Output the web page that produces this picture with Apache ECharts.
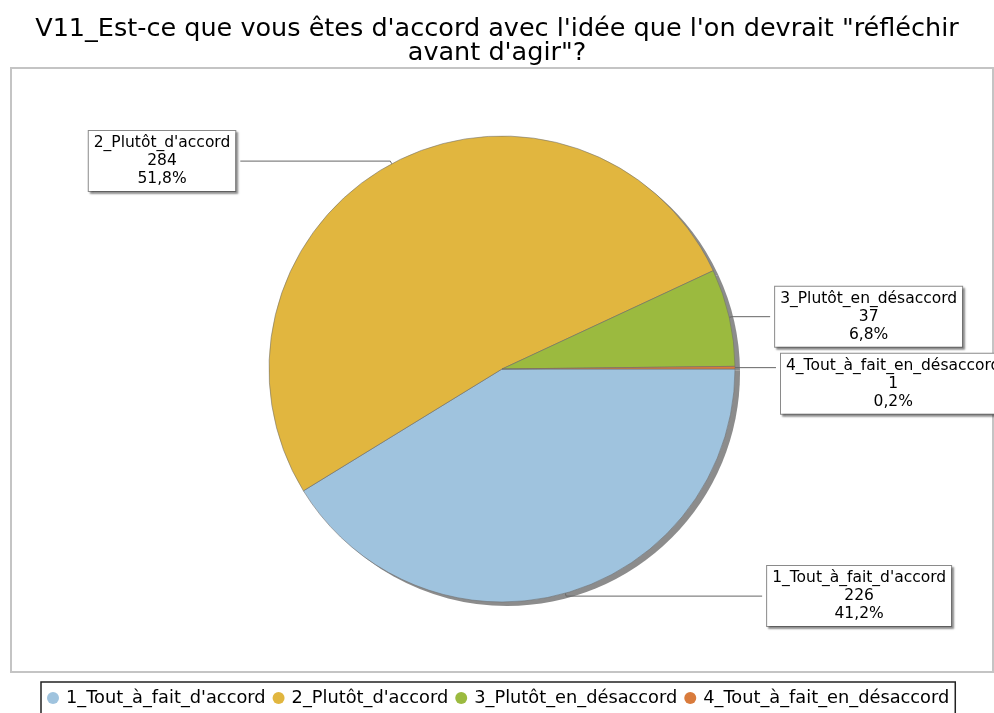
<!DOCTYPE html>
<html>
<head>
<meta charset="utf-8">
<script src="https://cdn.jsdelivr.net/npm/echarts@6/dist/echarts.min.js"></script>
<style>
html,body{margin:0;padding:0;background:#fff;}
#chart{width:994px;height:713px;}
</style>
</head>
<body>
<div id="chart"></div>
<script>
var titleText = "V11_Est-ce que vous êtes d'accord avec l'idée que l'on devrait \"réfléchir\navant d'agir\"?";
var categories = ["1_Tout_à_fait_d'accord", "2_Plutôt_d'accord", "3_Plutôt_en_désaccord", "4_Tout_à_fait_en_désaccord"];
var counts = [226, 284, 37, 1];
var colors = ["#9fc3de", "#e1b63f", "#9bba3f", "#d97b3c"];
var lineLen2 = [196, 150, 38, 38];

var total = counts.reduce(function(a, b){ return a + b; }, 0);

var chart = echarts.init(document.getElementById('chart'), null, {renderer: 'canvas'});

var mainData = categories.map(function(c, i){
  return {
    name: c,
    value: counts[i],
    itemStyle: {color: colors[i]},
    labelLine: {length: 3, length2: lineLen2[i]}
  };
});
var shadowData = categories.map(function(c, i){
  return {name: c, value: counts[i]};
});

var option = {
  backgroundColor: '#ffffff',
  animation: false,
  title: {
    text: titleText,
    left: 'center',
    top: 12,
    textStyle: {
      fontFamily: 'DejaVu Sans',
      fontSize: 25.5,
      fontWeight: 'normal',
      color: '#000',
      lineHeight: 24
    }
  },
  graphic: [{
    type: 'rect',
    shape: {x: 11, y: 68, width: 982, height: 604},
    style: {fill: 'none', stroke: '#c4c4c4', lineWidth: 2},
    z: -1,
    silent: true
  }],
  legend: {
    data: categories,
    left: 41,
    top: 682,
    orient: 'horizontal',
    icon: 'circle',
    itemWidth: 12,
    itemHeight: 12,
    itemGap: 7,
    padding: [7, 6, 8, 6],
    borderColor: '#222',
    borderWidth: 1.5,
    itemStyle: {borderWidth: 0},
    textStyle: {
      fontFamily: 'DejaVu Sans',
      fontSize: 17.8,
      color: '#000',
      padding: [0, 0, 0, 2]
    }
  },
  series: [
    {
      name: 'main',
      type: 'pie',
      center: [502, 369],
      radius: 233,
      startAngle: 0,
      clockwise: true,
      avoidLabelOverlap: false,
      z: 3,
      itemStyle: {borderColor: 'rgba(110,110,110,0.7)', borderWidth: 0.8},
      label: {
        show: true,
        position: 'outside',
        formatter: function(p){
          var pct = (p.value / total * 100).toFixed(1).replace('.', ',');
          return '{c|' + p.name + '}\n{c|' + p.value + '}\n{c|' + pct + '%}';
        },
        rich: {
          c: {
            align: 'center',
            fontFamily: 'DejaVu Sans',
            fontSize: 15.5,
            color: '#000',
            lineHeight: 18
          }
        },
        backgroundColor: '#fff',
        borderColor: '#8a8a8a',
        borderWidth: 1,
        padding: [3, 5, 3, 5],
        shadowColor: 'rgba(0,0,0,0.35)',
        shadowBlur: 2,
        shadowOffsetX: 2,
        shadowOffsetY: 2
      },
      labelLine: {
        show: true,
        lineStyle: {color: '#666', width: 1}
      },
      labelLayout: function(params){
        if (params.dataIndex === 3) {
          return {dy: 16};
        }
        return {};
      },
      emphasis: {disabled: true},
      data: mainData
    },
    {
      name: 'shadow',
      type: 'pie',
      center: [507, 373],
      radius: 233,
      startAngle: 0,
      clockwise: true,
      silent: true,
      z: 1,
      label: {show: false},
      labelLine: {show: false},
      itemStyle: {color: '#8c8c8c'},
      emphasis: {disabled: true},
      data: shadowData
    }
  ]
};
chart.setOption(option);
</script>
</body>
</html>
